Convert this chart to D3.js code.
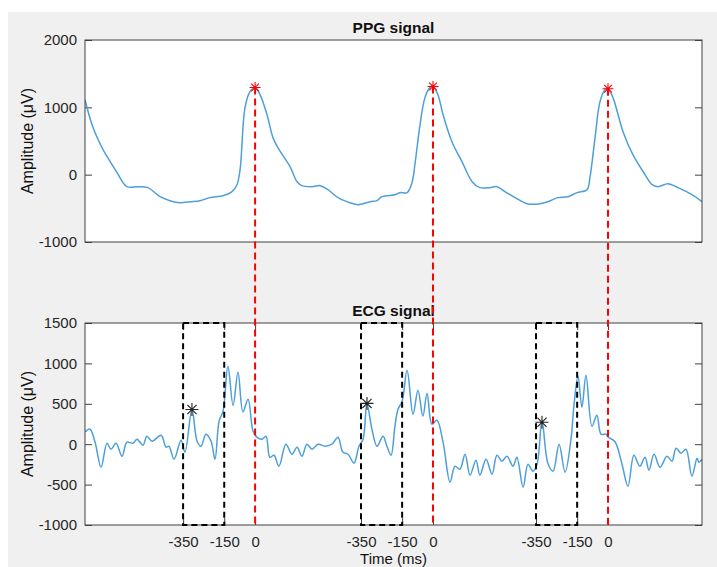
<!DOCTYPE html>
<html lang="en">
<head>
<meta charset="UTF-8" />
<title>PPG / ECG</title>
<script src="https://d3js.org/d3.v7.min.js"></script>
<style>
  body { margin: 0; background: #fff; }
  svg { display: block; font-family: "Liberation Sans", Arial, sans-serif; }
  .tick text { fill: #262626; font-size: 15px; }
  .tick line { stroke: #404040; }
</style>
</head>
<body>
<div id="chart"></div>
<script>
// PPG trace (time in ms, amplitude in uV)
const ppgTime = [0, 39, 83, 107, 156, 204, 258, 306, 365, 413, 462, 511, 559, 608, 671, 715, 739, 754,
  778, 802, 827, 851, 885, 914, 938, 997, 1031, 1055, 1104, 1143, 1181, 1230, 1288, 1327, 1386, 1420,
  1444, 1507, 1532, 1566, 1590, 1604, 1629, 1653, 1677, 1692, 1716, 1741, 1784, 1833, 1882, 1920, 1969,
  2003, 2042, 2091, 2149, 2212, 2251, 2300, 2348, 2392, 2441, 2455, 2480, 2504, 2528, 2543, 2567, 2616,
  2664, 2723, 2757, 2786, 2835, 2883, 2951, 3000];
const ppgAmp = [1110, 700, 400, 270, 30, -178, -178, -193, -327, -386, -416, -401, -386, -341, -312, -252, -149, 74,
  995, 1233, 1295, 1188, 891, 550, 401, 119, -104, -163, -178, -163, -223, -341, -416, -446, -401, -386,
  -327, -297, -267, -267, -119, 148, 743, 1144, 1292, 1310, 1188, 891, 490, 193, -104, -193, -193,
  -178, -252, -341, -431, -431, -401, -341, -327, -267, -223, -45, 550, 1084, 1262, 1275, 1144, 639,
  297, 0, -149, -178, -134, -193, -297, -401];

// ECG trace
const ecgTime = [0, 24, 49, 78, 107, 126, 151, 180, 204, 233, 253, 282, 301, 326, 370, 394, 408, 433, 467, 486,
  520, 545, 564, 588, 613, 632, 652, 671, 695, 720, 744, 768, 793, 817, 836, 861, 880, 899, 919, 943,
  977, 1006, 1031, 1055, 1079, 1104, 1133, 1167, 1201, 1230, 1254, 1279, 1308, 1332, 1352, 1371, 1395,
  1420, 1449, 1468, 1488, 1507, 1522, 1542, 1566, 1595, 1619, 1643, 1663, 1687, 1711, 1741, 1775, 1799,
  1823, 1848, 1872, 1901, 1920, 1950, 1979, 2003, 2027, 2052, 2081, 2100, 2130, 2154, 2178, 2198, 2222,
  2251, 2276, 2305, 2334, 2363, 2377, 2397, 2416, 2436, 2465, 2489, 2509, 2533, 2543, 2577, 2611, 2640,
  2669, 2698, 2723, 2742, 2767, 2796, 2830, 2854, 2874, 2898, 2922, 2951, 2976, 2985, 3000];
const ecgAmp = [150, 186, 25, -285, 12, -62, 12, -149, 25, 12, 62, -12, 99, 37, 111, -37, -25, -186, 50, -99,
  430, 37, -25, 124, 37, -186, 285, 408, 965, 480, 890, 400, 557, 161, 87, 62, 99, -161, -136, -272,
  0, -124, -37, -149, 0, -62, 0, -25, 0, 87, -99, -124, -235, -25, 62, 500, 186,
  -25, 99, -25, -136, 223, 433, 532, 916, 371, 668, 347, 631, 248, 297, 25, -470, -272,
  -309, -124, -384, -198, -384, -186, -371, -136, -210, -149, -272, -161, -532, -248, -334, -248, 280,
  -240, -334, 0, -347, 62, 470, 842, 458, 854, 223, 359, 124, 124, 90, 30, -248, -520,
  -136, -272, -161, -322, -124, -285, -149, -210, -50, -111, -62, -396, -173, -223, -186];

const ppgPeakTime = [827, 1692, 2543];
const ppgPeakAmp = [1295, 1310, 1275];
const ecgMarkTime = [520, 1371, 2222];
const ecgMarkAmp = [430, 505, 272];
const boxOffsets = [-350, -150];
const xTickOffsets = [-350, -150, 0];
const ppgYTicks = [-1000, 0, 1000, 2000];
const ecgYTicks = [-1000, -500, 0, 500, 1000, 1500];

const W = 717, H = 567;
const svg = d3.select("#chart").append("svg").attr("width", W).attr("height", H);
svg.append("rect").attr("x", 8).attr("y", 12).attr("width", W - 8).attr("height", H - 12).attr("fill", "#f0f0f0");

const x = d3.scaleLinear().domain([0, 3000]).range([85, 702]);
const yP = d3.scaleLinear().domain([-1000, 2000]).range([242, 40]);
const yE = d3.scaleLinear().domain([-1000, 1500]).range([525, 323]);
const blue = "#4d9fd9";

function star(g, cx, cy, r, color) {
  const d = r * 0.707;
  g.append("path")
    .attr("d", `M${cx - r},${cy}H${cx + r}M${cx},${cy - r}V${cy + r}M${cx - d},${cy - d}L${cx + d},${cy + d}M${cx - d},${cy + d}L${cx + d},${cy - d}`)
    .attr("stroke", color).attr("stroke-width", 1.1).attr("fill", "none");
}

function panel(y, yTicks, title, id) {
  const [y1, y0] = y.range();
  const g = svg.append("g");
  g.append("rect").attr("x", 85).attr("y", y0).attr("width", 617).attr("height", y1 - y0).attr("fill", "#fff");
  g.append("clipPath").attr("id", id).append("rect")
    .attr("x", 85).attr("y", y0).attr("width", 617).attr("height", y1 - y0);

  g.append("g").attr("transform", "translate(85,0)")
    .call(d3.axisLeft(y).tickValues(yTicks).tickSize(-7).tickPadding(8).tickFormat(d => String(d)))
    .call(a => a.select(".domain").remove());
  g.append("g").attr("transform", "translate(702,0)")
    .call(d3.axisRight(y).tickValues(yTicks).tickSize(-7).tickFormat(""))
    .call(a => a.select(".domain").remove());

  g.append("text").attr("x", 393.5).attr("y", y0 - 7).attr("text-anchor", "middle")
    .attr("font-size", "15.5px").attr("font-weight", "bold").attr("fill", "#111").text(title);
  g.append("text").attr("transform", `translate(33,${(y0 + y1) / 2}) rotate(-90)`)
    .attr("text-anchor", "middle").attr("font-size", "16px").attr("fill", "#111").text("Amplitude (\u03bcV)");
  return g;
}

// PPG panel
const gP = panel(yP, ppgYTicks, "PPG signal", "clipP");
gP.append("path")
  .datum(ppgTime.map((t, i) => [t, ppgAmp[i]]))
  .attr("clip-path", "url(#clipP)")
  .attr("d", d3.line().x(d => x(d[0])).y(d => yP(d[1])).curve(d3.curveCatmullRom.alpha(0.5)))
  .attr("fill", "none").attr("stroke", blue).attr("stroke-width", 1.5);
gP.append("rect").attr("x", 85).attr("y", 40).attr("width", 617).attr("height", 202)
  .attr("fill", "none").attr("stroke", "#404040").attr("stroke-width", 1);

// ECG panel
const gE = panel(yE, ecgYTicks, "ECG signal", "clipE");
const xTickVals = [], xTickLabel = new Map();
ppgPeakTime.forEach(p => xTickOffsets.forEach(o => { xTickVals.push(p + o); xTickLabel.set(p + o, String(o)); }));
gE.append("g").attr("transform", "translate(0,525)")
  .call(d3.axisBottom(x).tickValues(xTickVals).tickSize(-7).tickPadding(11).tickFormat(d => xTickLabel.get(d)))
  .call(a => a.select(".domain").remove());
gE.append("g").attr("transform", "translate(0,323)")
  .call(d3.axisTop(x).tickValues(xTickVals).tickSize(-7).tickFormat(""))
  .call(a => a.select(".domain").remove());

gE.append("path")
  .datum(ecgTime.map((t, i) => [t, ecgAmp[i]]))
  .attr("clip-path", "url(#clipE)")
  .attr("d", d3.line().x(d => x(d[0])).y(d => yE(d[1])).curve(d3.curveCatmullRom.alpha(0.5)))
  .attr("fill", "none").attr("stroke", blue).attr("stroke-width", 1.5);
gE.append("rect").attr("x", 85).attr("y", 323).attr("width", 617).attr("height", 202)
  .attr("fill", "none").attr("stroke", "#404040").attr("stroke-width", 1);

svg.append("text").attr("x", 393.5).attr("y", 564).attr("text-anchor", "middle")
  .attr("font-size", "15px").attr("fill", "#111").text("Time (ms)");

// dashed boxes before each PPG peak
ppgPeakTime.forEach(p => {
  const xa = x(p + boxOffsets[0]), xb = x(p + boxOffsets[1]);
  svg.append("rect").attr("x", xa).attr("y", yE(1500)).attr("width", xb - xa).attr("height", yE(-1000) - yE(1500))
    .attr("fill", "none").attr("stroke", "#000").attr("stroke-width", 2).attr("stroke-dasharray", "6,4");
});

ecgMarkTime.forEach((t, i) => star(svg, x(t), yE(ecgMarkAmp[i]), 6.5, "#222"));

// red dashed lines from PPG peaks down to ECG axis bottom
ppgPeakTime.forEach((p, i) => {
  svg.append("line").attr("x1", x(p)).attr("x2", x(p))
    .attr("y1", yP(ppgPeakAmp[i])).attr("y2", yE(-1000))
    .attr("stroke", "#ff0000").attr("stroke-width", 2).attr("stroke-dasharray", "7,4");
  star(svg, x(p), yP(ppgPeakAmp[i]), 5.5, "#ff0000");
});
</script>
</body>
</html>
